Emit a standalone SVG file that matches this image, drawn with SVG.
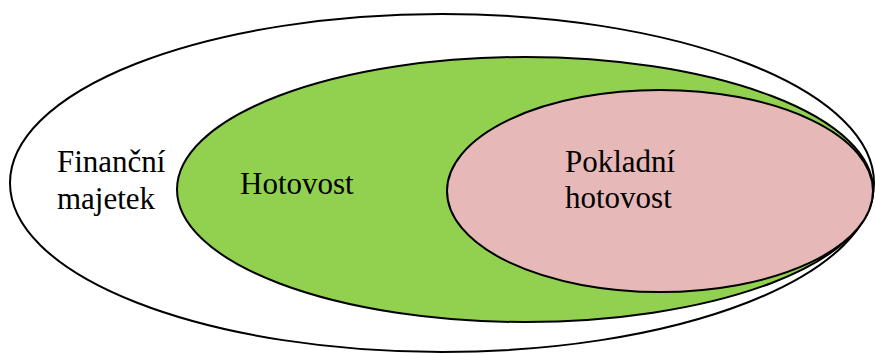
<svg xmlns="http://www.w3.org/2000/svg" width="875" height="354" viewBox="0 0 875 354">
<style>
.e{stroke:#000;stroke-width:2}
text{font-family:'Times New Roman','Liberation Serif','DejaVu Serif',serif;font-size:31px;fill:#000}
</style>
<rect width="875" height="354" fill="#fff"/>
<g id="financni-majetek">
<ellipse class="e" cx="442" cy="183" rx="432" ry="169" fill="#fff"/>
<text x="57" y="172">Finanční</text>
<text x="57" y="209">majetek</text>
</g>
<g id="hotovost">
<ellipse class="e" cx="525" cy="189.5" rx="348" ry="132.5" fill="#92d050"/>
<text x="240" y="194">Hotovost</text>
</g>
<g id="pokladni-hotovost">
<ellipse class="e" cx="660" cy="191" rx="213" ry="101" fill="#e6b8b7"/>
<text x="565" y="172">Pokladní</text>
<text x="565" y="208">hotovost</text>
</g>
<g id="connectors"/>
</svg>
